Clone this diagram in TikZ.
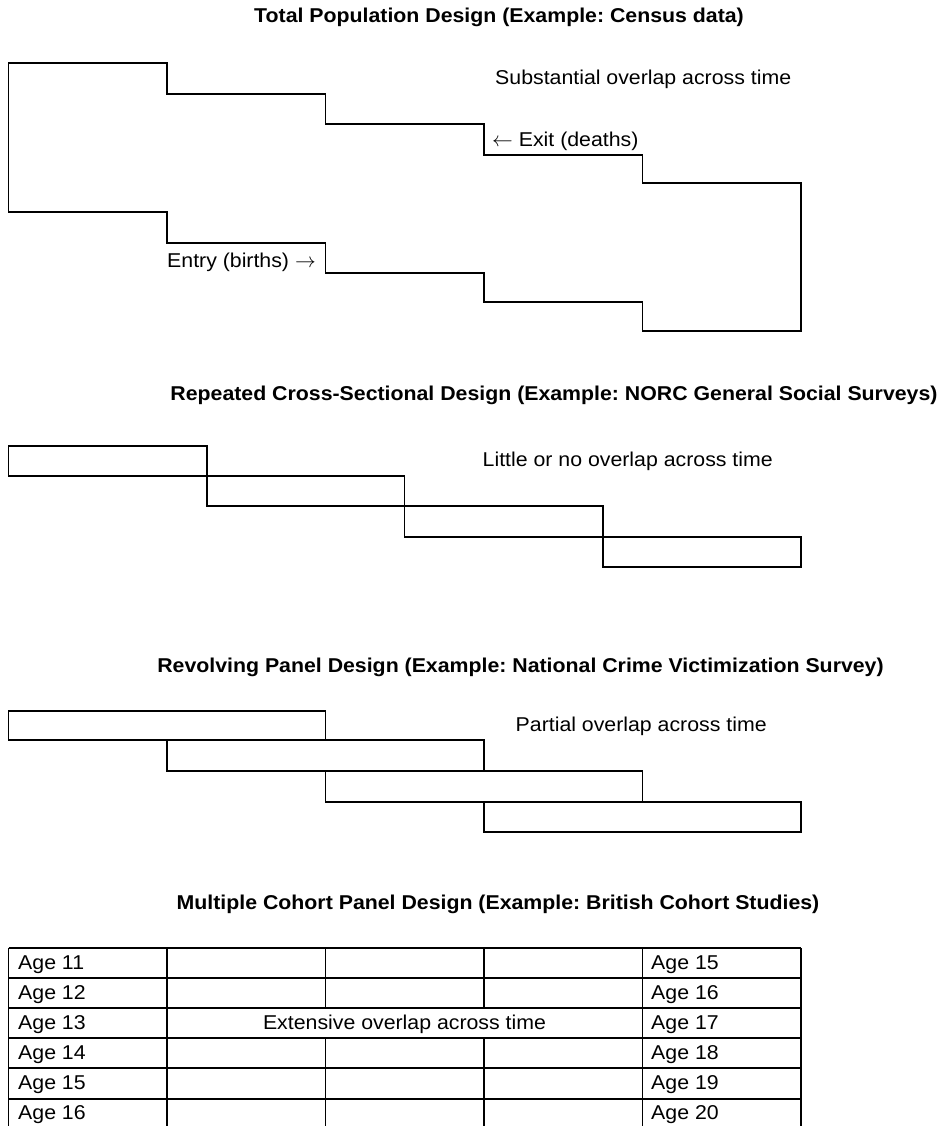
\documentclass[tikz,border=0pt]{standalone}
\usepackage{fontspec}
\setmainfont{Liberation Sans}[FakeStretch=1.065,BoldFeatures={FakeStretch=1.065}]
\frenchspacing
\begin{document}
\begin{tikzpicture}[x=1pt,y=-1pt,
  outlinebox/.style={draw=black,line width=1.8pt,line join=miter},
  gridline/.style={draw=black,line width=1.8pt},
  ttl/.style={font=\fontsize{20}{24}\selectfont\bfseries,inner sep=0pt,anchor=base},
  lbl/.style={font=\fontsize{20}{24}\selectfont,inner sep=0pt,anchor=base west},
  cell/.style={font=\fontsize{20}{24}\selectfont,inner sep=0pt,anchor=base west}]
\useasboundingbox (0,0) rectangle (942,1126);
\def\cA{8.5}\def\cB{167}\def\cC{325.5}\def\cD{484}\def\cE{642.5}\def\cF{801}
% ---------- Section 1 ----------
\node[ttl] (t1) at (499,23) {Total Population Design (Example: Census data)};
\draw[outlinebox] (\cA,63) -- (\cB,63) -- (\cB,94) -- (\cC,94) -- (\cC,124) -- (\cD,124)
  -- (\cD,155) -- (\cE,155) -- (\cE,183) -- (\cF,183) -- (\cF,331) -- (\cE,331)
  -- (\cE,302) -- (\cD,302) -- (\cD,273) -- (\cC,273) -- (\cC,243) -- (\cB,243)
  -- (\cB,212) -- (\cA,212) -- cycle;
\node[lbl] (s1) at (495,85) {Substantial overlap across time};
\node[lbl] (ex) at (492,147) {$\leftarrow$ Exit (deaths)};
\node[lbl] (en) at (167,267) {Entry (births) $\rightarrow$};
% ---------- Section 2 ----------
\node[ttl] (t2) at (554,400) {Repeated Cross-Sectional Design (Example: NORC General Social Surveys)};
\draw[outlinebox] (\cA,446) rectangle (207,476);
\draw[outlinebox] (207,476) rectangle (404.5,506);
\draw[outlinebox] (404.5,506) rectangle (603,537);
\draw[outlinebox] (603,537) rectangle (\cF,567);
\node[lbl] (s2) at (482.5,466.5) {Little or no overlap across time};
% ---------- Section 3 ----------
\node[ttl] (t3) at (520.5,672) {Revolving Panel Design (Example: National Crime Victimization Survey)};
\draw[outlinebox] (\cA,711) rectangle (\cC,740);
\draw[outlinebox] (\cB,740) rectangle (\cD,771);
\draw[outlinebox] (\cC,771) rectangle (\cE,802);
\draw[outlinebox] (\cD,802) rectangle (\cF,832);
\node[lbl] (s3) at (515.5,731) {Partial overlap across time};
% ---------- Section 4 ----------
\node[ttl] (t4) at (498,909) {Multiple Cohort Panel Design (Example: British Cohort Studies)};
\foreach \y in {948,978,1008,1038,1068,1099} {
  \draw[gridline] (\cA,\y) -- (\cF,\y);
}
\foreach \x in {\cA,\cB,\cE,\cF} {
  \draw[gridline] (\x,948) -- (\x,1127);
}
\foreach \x in {\cC,\cD} {
  \draw[gridline] (\x,948) -- (\x,1008);
  \draw[gridline] (\x,1038) -- (\x,1127);
}
\node[cell] (l1) at (18,969) {Age 11};
\node[cell] (l2) at (18,999) {Age 12};
\node[cell] (l3) at (18,1029) {Age 13};
\node[cell] (l4) at (18,1059) {Age 14};
\node[cell] (l5) at (18,1089) {Age 15};
\node[cell] (l6) at (18,1119.5) {Age 16};
\node[cell] (r1) at (651,969) {Age 15};
\node[cell] (r2) at (651,999) {Age 16};
\node[cell] (r3) at (651,1029) {Age 17};
\node[cell] (r4) at (651,1059) {Age 18};
\node[cell] (r5) at (651,1089) {Age 19};
\node[cell] (r6) at (651,1119.5) {Age 20};
\node[font=\fontsize{20}{24}\selectfont,inner sep=0pt,anchor=base] (mid) at (404.5,1029) {Extensive overlap across time};
\end{tikzpicture}
\end{document}
